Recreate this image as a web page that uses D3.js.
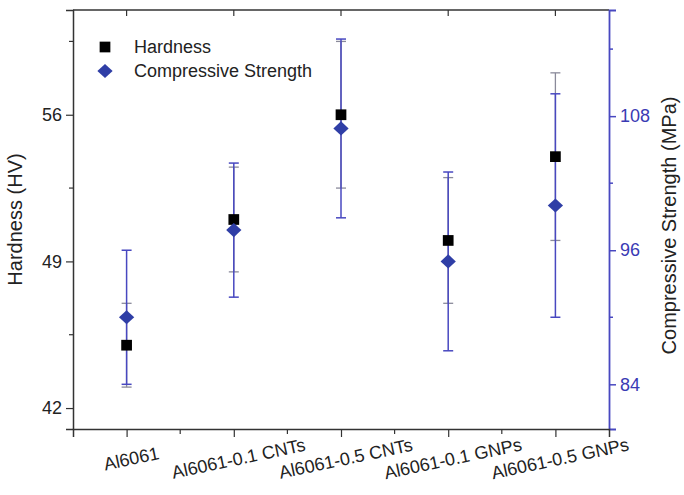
<!DOCTYPE html>
<html lang="en">
<head>
  <meta charset="UTF-8">
  <title>Hardness and Compressive Strength</title>
  <script src="https://d3js.org/d3.v7.min.js"></script>
  <style>
    body { margin: 0; background: #fff; }
    svg { display: block; font-family: "Liberation Sans", Arial, sans-serif; }
  </style>
</head>
<body>
<div id="chart"></div>
<script>
  // data
  const categories = ["Al6061", "Al6061-0.1 CNTs", "Al6061-0.5 CNTs", "Al6061-0.1 GNPs", "Al6061-0.5 GNPs"];
  const hardness = [45.0, 51.0, 56.0, 50.0, 54.0];
  const hardnessErr = [2.0, 2.5, 3.5, 3.0, 4.0];
  const strength = [90.0, 97.8, 106.9, 95.0, 100.0];
  const strengthErr = [6.0, 6.0, 8.0, 8.0, 10.0];
  const leftTicks = [42, 49, 56];
  const rightTicks = [84, 96, 108];

  const width = 684, height = 495;
  const margin = { top: 10, right: 75, bottom: 66, left: 73 };
  const plotW = width - margin.left - margin.right;
  const plotH = height - margin.top - margin.bottom;

  const blue = "#4848c0";
  const darkBlue = "#2f3ea6";
  const axisGray = "#333";

  const svg = d3.select("#chart").append("svg")
    .attr("width", width)
    .attr("height", height);

  const g = svg.append("g").attr("transform", `translate(${margin.left},${margin.top})`);

  const x = d3.scaleLinear().domain([0.5, categories.length + 0.5]).range([0, plotW]);
  const yL = d3.scaleLinear().domain([41, 61]).range([plotH, 0]);
  const yR = d3.scaleLinear().domain([80, 117.5]).range([plotH, 0]);

  // minor ticks halfway between majors
  const leftMinor = [45.5, 52.5, 59.5];
  const rightMinor = [90, 102, 114];
  const xMajor = categories.map((c, i) => i + 1);
  const xMinor = d3.range(1.5, categories.length, 1);

  // frame: top line
  g.append("line").attr("x1", 0).attr("x2", plotW).attr("y1", 0).attr("y2", 0)
    .attr("stroke", axisGray).attr("stroke-width", 1.5);
  g.selectAll(".topTick").data(xMajor).enter().append("line")
    .attr("x1", d => x(d)).attr("x2", d => x(d)).attr("y1", 0).attr("y2", 6)
    .attr("stroke", axisGray).attr("stroke-width", 1.2);

  // left axis
  const leftAxis = g.append("g")
    .call(d3.axisLeft(yL).tickValues(leftTicks).tickSize(7).tickPadding(4));
  leftAxis.select(".domain").attr("stroke", axisGray).attr("stroke-width", 1.5);
  leftAxis.selectAll(".tick line").attr("stroke", axisGray).attr("stroke-width", 1.2);
  leftAxis.selectAll("text").attr("font-size", 18).attr("fill", "#222")
    .attr("font-family", "Liberation Sans, Arial, sans-serif");
  g.selectAll(".lMinor").data(leftMinor).enter().append("line")
    .attr("x1", -4).attr("x2", 0).attr("y1", d => yL(d)).attr("y2", d => yL(d))
    .attr("stroke", axisGray).attr("stroke-width", 1.2);

  // right axis
  const rightAxis = g.append("g").attr("transform", `translate(${plotW},0)`)
    .call(d3.axisRight(yR).tickValues(rightTicks).tickSize(7).tickPadding(4));
  rightAxis.select(".domain").attr("stroke", blue).attr("stroke-width", 1.8);
  rightAxis.selectAll(".tick line").attr("stroke", blue).attr("stroke-width", 1.5);
  rightAxis.selectAll("text").attr("font-size", 18).attr("fill", "#3a3ab4")
    .attr("font-family", "Liberation Sans, Arial, sans-serif");
  g.selectAll(".rMinor").data(rightMinor).enter().append("line")
    .attr("x1", plotW).attr("x2", plotW + 4).attr("y1", d => yR(d)).attr("y2", d => yR(d))
    .attr("stroke", blue).attr("stroke-width", 1.5);

  // bottom axis
  const bottomAxis = g.append("g").attr("transform", `translate(0,${plotH})`)
    .call(d3.axisBottom(x).tickValues(xMajor).tickSize(8).tickFormat(""));
  bottomAxis.select(".domain").attr("stroke", axisGray).attr("stroke-width", 1.5);
  bottomAxis.selectAll(".tick line").attr("stroke", axisGray).attr("stroke-width", 1.2);
  g.selectAll(".bMinor").data(xMinor).enter().append("line")
    .attr("x1", d => x(d)).attr("x2", d => x(d)).attr("y1", plotH).attr("y2", plotH + 5)
    .attr("stroke", axisGray).attr("stroke-width", 1.2);

  // rotated category labels
  g.selectAll(".xlab").data(categories).enter().append("text")
    .attr("transform", (d, i) => `translate(${x(i + 1) + 5},${plotH + 31}) rotate(-12)`)
    .attr("text-anchor", "middle")
    .attr("dominant-baseline", "middle")
    .attr("font-size", 18)
    .attr("fill", "#222")
    .text(d => d);

  // axis titles
  g.append("text")
    .attr("transform", `translate(${-51},${plotH / 2}) rotate(-90)`)
    .attr("text-anchor", "middle")
    .attr("font-size", 20)
    .attr("fill", "#222")
    .text("Hardness (HV)");

  g.append("text")
    .attr("transform", `translate(${plotW + 67},${plotH / 2 + 6}) rotate(-90)`)
    .attr("text-anchor", "middle")
    .attr("font-size", 20)
    .attr("fill", "#222")
    .text("Compressive Strength (MPa)");

  const capW = 5;

  // hardness error bars (gray)
  const hErr = g.selectAll(".hErr").data(hardness).enter().append("g");
  hErr.append("line")
    .attr("x1", (d, i) => x(i + 1)).attr("x2", (d, i) => x(i + 1))
    .attr("y1", (d, i) => yL(d - hardnessErr[i])).attr("y2", (d, i) => yL(d + hardnessErr[i]))
    .attr("stroke", "#8a8a9a").attr("stroke-width", 1.3);
  hErr.append("line")
    .attr("x1", (d, i) => x(i + 1) - capW).attr("x2", (d, i) => x(i + 1) + capW)
    .attr("y1", (d, i) => yL(d + hardnessErr[i])).attr("y2", (d, i) => yL(d + hardnessErr[i]))
    .attr("stroke", "#8a8a9a").attr("stroke-width", 1.3);
  hErr.append("line")
    .attr("x1", (d, i) => x(i + 1) - capW).attr("x2", (d, i) => x(i + 1) + capW)
    .attr("y1", (d, i) => yL(d - hardnessErr[i])).attr("y2", (d, i) => yL(d - hardnessErr[i]))
    .attr("stroke", "#8a8a9a").attr("stroke-width", 1.3);

  // strength error bars (blue)
  const sErr = g.selectAll(".sErr").data(strength).enter().append("g");
  sErr.append("line")
    .attr("x1", (d, i) => x(i + 1)).attr("x2", (d, i) => x(i + 1))
    .attr("y1", (d, i) => yR(d - strengthErr[i])).attr("y2", (d, i) => yR(d + strengthErr[i]))
    .attr("stroke", blue).attr("stroke-width", 1.5);
  sErr.append("line")
    .attr("x1", (d, i) => x(i + 1) - capW).attr("x2", (d, i) => x(i + 1) + capW)
    .attr("y1", (d, i) => yR(d + strengthErr[i])).attr("y2", (d, i) => yR(d + strengthErr[i]))
    .attr("stroke", blue).attr("stroke-width", 1.5);
  sErr.append("line")
    .attr("x1", (d, i) => x(i + 1) - capW).attr("x2", (d, i) => x(i + 1) + capW)
    .attr("y1", (d, i) => yR(d - strengthErr[i])).attr("y2", (d, i) => yR(d - strengthErr[i]))
    .attr("stroke", blue).attr("stroke-width", 1.5);

  // markers: square, and a square turned 45 degrees for the diamond
  const square = d3.symbol().type(d3.symbolSquare).size(115);
  const diamond = d3.symbol().type(d3.symbolSquare).size(100);

  g.selectAll(".hPt").data(hardness).enter().append("path")
    .attr("d", square)
    .attr("transform", (d, i) => `translate(${x(i + 1)},${yL(d)})`)
    .attr("fill", "#000");

  g.selectAll(".sPt").data(strength).enter().append("path")
    .attr("d", diamond)
    .attr("transform", (d, i) => `translate(${x(i + 1)},${yR(d)}) scale(1.08,1) rotate(45)`)
    .attr("fill", darkBlue);

  // legend
  const legend = g.append("g").attr("transform", "translate(32,37)");
  legend.append("path").attr("d", square).attr("fill", "#000");
  legend.append("text").attr("x", 29).attr("y", 6).attr("font-size", 18).attr("fill", "#222").text("Hardness");
  legend.append("path").attr("d", diamond).attr("fill", darkBlue)
    .attr("transform", "translate(0,24) scale(1.08,1) rotate(45)");
  legend.append("text").attr("x", 29).attr("y", 30).attr("font-size", 18).attr("fill", "#222").text("Compressive Strength");
</script>
</body>
</html>
